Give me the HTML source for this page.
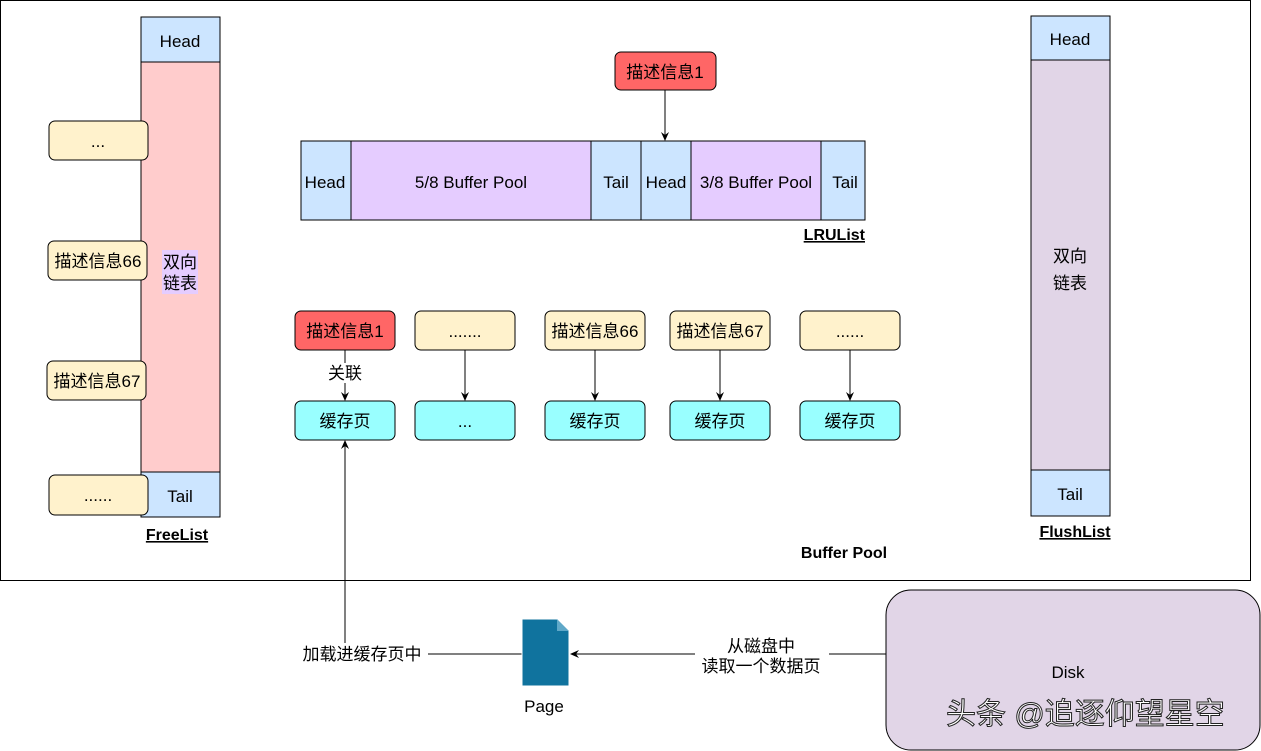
<!DOCTYPE html>
<html><head><meta charset="utf-8"><style>
html,body{margin:0;padding:0;background:#fff;}
svg{display:block;}
text{font-family:"Liberation Sans","Noto Sans CJK SC",sans-serif;font-size:17px;fill:#000;}
.b{font-weight:bold;text-decoration:underline;font-size:16px;}
</style></head><body>
<svg width="1261" height="751" viewBox="0 0 1261 751" xmlns="http://www.w3.org/2000/svg">
<defs><marker id="a" markerWidth="10" markerHeight="10" refX="8" refY="5" orient="auto" markerUnits="userSpaceOnUse"><path d="M0,1 L9,5 L0,9 L3,5 Z" fill="#000"/></marker></defs>
<rect x="0.5" y="0.5" width="1250" height="580" fill="#fff" stroke="#000"/>
<!-- FreeList -->
<rect x="141" y="62" width="79" height="410" fill="#ffcccc" stroke="#000"/>
<rect x="141" y="17" width="79" height="45" fill="#cce5ff" stroke="#000"/>
<rect x="141" y="472" width="79" height="45" fill="#cce5ff" stroke="#000"/>
<text x="180" y="47" text-anchor="middle">Head</text>
<text x="180" y="502" text-anchor="middle">Tail</text>
<rect x="162" y="250" width="36" height="44" fill="#e5ccff"/>
<text x="180" y="268" text-anchor="middle">双向</text>
<text x="180" y="289" text-anchor="middle">链表</text>
<text x="177" y="540" text-anchor="middle" class="b">FreeList</text>
<rect x="49" y="121" width="99" height="39" rx="6" fill="#fff2cc" stroke="#000"/><text x="98" y="147" text-anchor="middle">...</text>
<rect x="48" y="241" width="99" height="39" rx="6" fill="#fff2cc" stroke="#000"/><text x="98" y="267" text-anchor="middle">描述信息66</text>
<rect x="47" y="361" width="99" height="39" rx="6" fill="#fff2cc" stroke="#000"/><text x="97" y="387" text-anchor="middle">描述信息67</text>
<rect x="49" y="475" width="99" height="40" rx="6" fill="#fff2cc" stroke="#000"/><text x="98" y="501" text-anchor="middle">......</text>
<!-- FlushList -->
<rect x="1031" y="60" width="79" height="410" fill="#e1d5e7" stroke="#000"/>
<rect x="1031" y="16" width="79" height="44" fill="#cce5ff" stroke="#000"/>
<rect x="1031" y="470" width="79" height="46" fill="#cce5ff" stroke="#000"/>
<text x="1070" y="45" text-anchor="middle">Head</text>
<text x="1070" y="500" text-anchor="middle">Tail</text>
<text x="1070" y="262" text-anchor="middle">双向</text>
<text x="1070" y="289" text-anchor="middle">链表</text>
<text x="1075" y="537" text-anchor="middle" class="b">FlushList</text>
<!-- LRU -->
<rect x="615" y="52" width="101" height="38" rx="6" fill="#ff6666" stroke="#000"/><text x="665" y="78" text-anchor="middle">描述信息1</text>
<line x1="665" y1="90" x2="665" y2="140" stroke="#000" marker-end="url(#a)"/>
<rect x="301" y="141" width="50" height="79" fill="#cce5ff" stroke="#000"/>
<rect x="351" y="141" width="240" height="79" fill="#e5ccff" stroke="#000"/>
<rect x="591" y="141" width="50" height="79" fill="#cce5ff" stroke="#000"/>
<rect x="641" y="141" width="50" height="79" fill="#cce5ff" stroke="#000"/>
<rect x="691" y="141" width="130" height="79" fill="#e5ccff" stroke="#000"/>
<rect x="821" y="141" width="44" height="79" fill="#cce5ff" stroke="#000"/>
<text x="325" y="188" text-anchor="middle">Head</text>
<text x="471" y="188" text-anchor="middle">5/8 Buffer Pool</text>
<text x="616" y="188" text-anchor="middle">Tail</text>
<text x="666" y="188" text-anchor="middle">Head</text>
<text x="756" y="188" text-anchor="middle">3/8 Buffer Pool</text>
<text x="845" y="188" text-anchor="middle">Tail</text>
<text x="865" y="240" text-anchor="end" class="b">LRUList</text>
<!-- rows -->
<rect x="295" y="311" width="100" height="39" rx="6" fill="#ff6666" stroke="#000"/><text x="345" y="337" text-anchor="middle">描述信息1</text>
<rect x="415" y="311" width="100" height="39" rx="6" fill="#fff2cc" stroke="#000"/><text x="465" y="337" text-anchor="middle">.......</text>
<rect x="545" y="311" width="100" height="39" rx="6" fill="#fff2cc" stroke="#000"/><text x="595" y="337" text-anchor="middle">描述信息66</text>
<rect x="670" y="311" width="100" height="39" rx="6" fill="#fff2cc" stroke="#000"/><text x="720" y="337" text-anchor="middle">描述信息67</text>
<rect x="800" y="311" width="100" height="39" rx="6" fill="#fff2cc" stroke="#000"/><text x="850" y="337" text-anchor="middle">......</text>
<g fill="#99ffff" stroke="#000">
<rect x="295" y="401" width="100" height="39" rx="6"/><rect x="415" y="401" width="100" height="39" rx="6"/><rect x="545" y="401" width="100" height="39" rx="6"/><rect x="670" y="401" width="100" height="39" rx="6"/><rect x="800" y="401" width="100" height="39" rx="6"/>
</g>
<text x="345" y="427" text-anchor="middle">缓存页</text>
<text x="465" y="427" text-anchor="middle">...</text>
<text x="595" y="427" text-anchor="middle">缓存页</text>
<text x="720" y="427" text-anchor="middle">缓存页</text>
<text x="850" y="427" text-anchor="middle">缓存页</text>
<g stroke="#000" marker-end="url(#a)">
<line x1="345" y1="350" x2="345" y2="400"/>
<line x1="465" y1="350" x2="465" y2="400"/>
<line x1="595" y1="350" x2="595" y2="400"/>
<line x1="720" y1="350" x2="720" y2="400"/>
<line x1="850" y1="350" x2="850" y2="400"/>
</g>
<rect x="325" y="363" width="40" height="20" fill="#fff"/>
<text x="345" y="379" text-anchor="middle">关联</text>
<text x="844" y="558" text-anchor="middle" font-weight="bold" style="font-size:16px">Buffer Pool</text>
<!-- bottom -->
<line x1="345" y1="654" x2="345" y2="441" stroke="#000" marker-end="url(#a)"/>
<line x1="345" y1="654" x2="522" y2="654" stroke="#000"/>
<rect x="296" y="643" width="132" height="22" fill="#fff"/>
<text x="362" y="660" text-anchor="middle">加载进缓存页中</text>
<path d="M522,619 L557,619 L569,631 L569,686 L522,686 Z" fill="#10739e" stroke="#fff" stroke-width="1"/>
<path d="M557,619 L557,631 L569,631 Z" fill="#5fa8c8"/>
<text x="544" y="712" text-anchor="middle">Page</text>
<line x1="886" y1="654" x2="571" y2="654" stroke="#000" marker-end="url(#a)"/>
<rect x="695" y="634" width="134" height="42" fill="#fff"/>
<text x="761" y="652" text-anchor="middle">从磁盘中</text>
<text x="761" y="672" text-anchor="middle">读取一个数据页</text>
<rect x="886" y="590" width="374" height="160" rx="25" fill="#e1d5e7" stroke="#000"/>
<text x="1068" y="678" text-anchor="middle">Disk</text>
<text x="946" y="724" style="font-size:30px;fill:#fff;stroke:#222;stroke-width:1px">头条 @追逐仰望星空</text>
</svg>
</body></html>
